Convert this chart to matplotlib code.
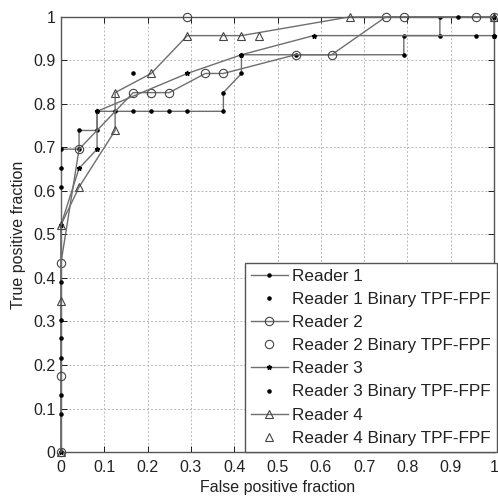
import numpy as np
import matplotlib
matplotlib.use("Agg")
import matplotlib.pyplot as plt

# ROC curves (FPF, TPF)
r1_fpf = [0, 0, 0.0417, 0.0417, 0.0833, 0.0833, 0.125, 0.1667, 0.2083, 0.25, 0.2917,
          0.375, 0.375, 0.4167, 0.4167, 0.5417, 0.7917, 0.7917, 0.875, 0.875, 1.0]
r1_tpf = [0, 0.696, 0.696, 0.739, 0.739, 0.783, 0.783, 0.783, 0.783, 0.783, 0.783,
          0.783, 0.826, 0.870, 0.913, 0.913, 0.913, 0.957, 0.957, 1.0, 1.0]

r2_fpf = [0, 0, 0.0417, 0.1667, 0.2083, 0.25, 0.3333, 0.375, 0.5417, 0.625, 0.75, 1.0]
r2_tpf = [0, 0.435, 0.696, 0.826, 0.826, 0.826, 0.870, 0.870, 0.913, 0.913, 1.0, 1.0]

r3_fpf = [0, 0, 0.0417, 0.0833, 0.0833, 0.2917, 0.4167, 0.5833, 1.0, 1.0]
r3_tpf = [0, 0.522, 0.652, 0.696, 0.783, 0.870, 0.913, 0.957, 0.957, 1.0]

r4_fpf = [0, 0, 0.0417, 0.125, 0.125, 0.2083, 0.2917, 0.375, 0.4167, 0.6667, 1.0]
r4_tpf = [0, 0.522, 0.609, 0.739, 0.826, 0.870, 0.957, 0.957, 0.957, 1.0, 1.0]

# binary TPF-FPF operating points
b1_fpf = [0, 0, 0, 0, 0.1667, 0.9167]
b1_tpf = [0.087, 0.217, 0.304, 0.652, 0.870, 1.0]
b2_fpf = [0, 0.2917, 0.7917, 0.9583]
b2_tpf = [0.174, 1.0, 1.0, 1.0]
b3_fpf = [0, 0, 0, 0, 0.9583, 1.0]
b3_tpf = [0.130, 0.261, 0.391, 0.609, 0.957, 0.957]
b4_fpf = [0, 0.4583]
b4_tpf = [0.348, 0.957]

ticks = np.round(np.arange(0, 1.01, 0.1), 1)
tick_labels = ["0", "0.1", "0.2", "0.3", "0.4", "0.5", "0.6", "0.7", "0.8", "0.9", "1"]

plt.rcParams["font.family"] = ["Liberation Sans", "DejaVu Sans"]

fig = plt.figure(figsize=(4.98, 4.97), dpi=100)
ax = fig.add_axes([0.1225, 0.0905, 0.8695, 0.8755])

line_c = "#6e6e6e"
mk_c = "#444444"

ax.plot(r1_fpf, r1_tpf, "-", color=line_c, lw=1.0, marker=".", ms=4.5,
        mfc="black", mec="black", label="Reader 1", zorder=3)
ax.plot(b1_fpf, b1_tpf, ".", color="black", ms=4.5, label="Reader 1 Binary TPF-FPF", zorder=4,
        clip_on=False)
ax.plot(r2_fpf, r2_tpf, "-", color=line_c, lw=1.0, marker="o", ms=6,
        mfc="none", mec=mk_c, mew=0.8, label="Reader 2", zorder=3, clip_on=False)
ax.plot(b2_fpf, b2_tpf, "o", ms=6, mfc="none", mec=mk_c, mew=0.8,
        label="Reader 2 Binary TPF-FPF", zorder=4, clip_on=False)
ax.plot(r3_fpf, r3_tpf, "-", color=line_c, lw=1.0, marker="*", ms=3.5,
        mfc="black", mec="black", label="Reader 3", zorder=3, clip_on=False)
ax.plot(b3_fpf, b3_tpf, ".", color="black", ms=4.5, label="Reader 3 Binary TPF-FPF", zorder=4,
        clip_on=False)
ax.plot(r4_fpf, r4_tpf, "-", color=line_c, lw=1.0, marker="^", ms=6,
        mfc="none", mec=mk_c, mew=0.8, label="Reader 4", zorder=3, clip_on=False)
ax.plot(b4_fpf, b4_tpf, "^", ms=6, mfc="none", mec=mk_c, mew=0.8,
        label="Reader 4 Binary TPF-FPF", zorder=4, clip_on=False)

ax.set_xlim(0, 1)
ax.set_ylim(0, 1)
ax.set_xticks(ticks)
ax.set_yticks(ticks)
ax.set_xticklabels(tick_labels, fontsize=11.5, color="#222222")
ax.set_yticklabels(tick_labels, fontsize=11.5, color="#222222")
ax.tick_params(direction="in", length=4, top=True, right=True, width=0.6)
ax.tick_params(axis="x", pad=6)
ax.tick_params(axis="y", pad=4)
ax.grid(True, ls=(0, (2, 2)), color="#b8b8b8", lw=0.7)
for s in ax.spines.values():
    s.set_color("#555555")
    s.set_linewidth(1.0)

ax.set_xlabel("False positive fraction", fontsize=11.5, labelpad=3, color="#222222")
ax.set_ylabel("True positive fraction", fontsize=11.5, labelpad=5, color="#222222")

leg = ax.legend(loc="lower right", bbox_to_anchor=(0.998, 0.0915),
                bbox_transform=fig.transFigure, fontsize=12.3, frameon=True,
                fancybox=False, framealpha=1, edgecolor="#555555",
                handlelength=2.2, handletextpad=0.25, labelspacing=0.47,
                borderpad=0.35, borderaxespad=0)
leg.get_frame().set_linewidth(1.0)
for t in leg.get_texts():
    t.set_color("#222222")

fig.savefig("out.png", dpi=100)
